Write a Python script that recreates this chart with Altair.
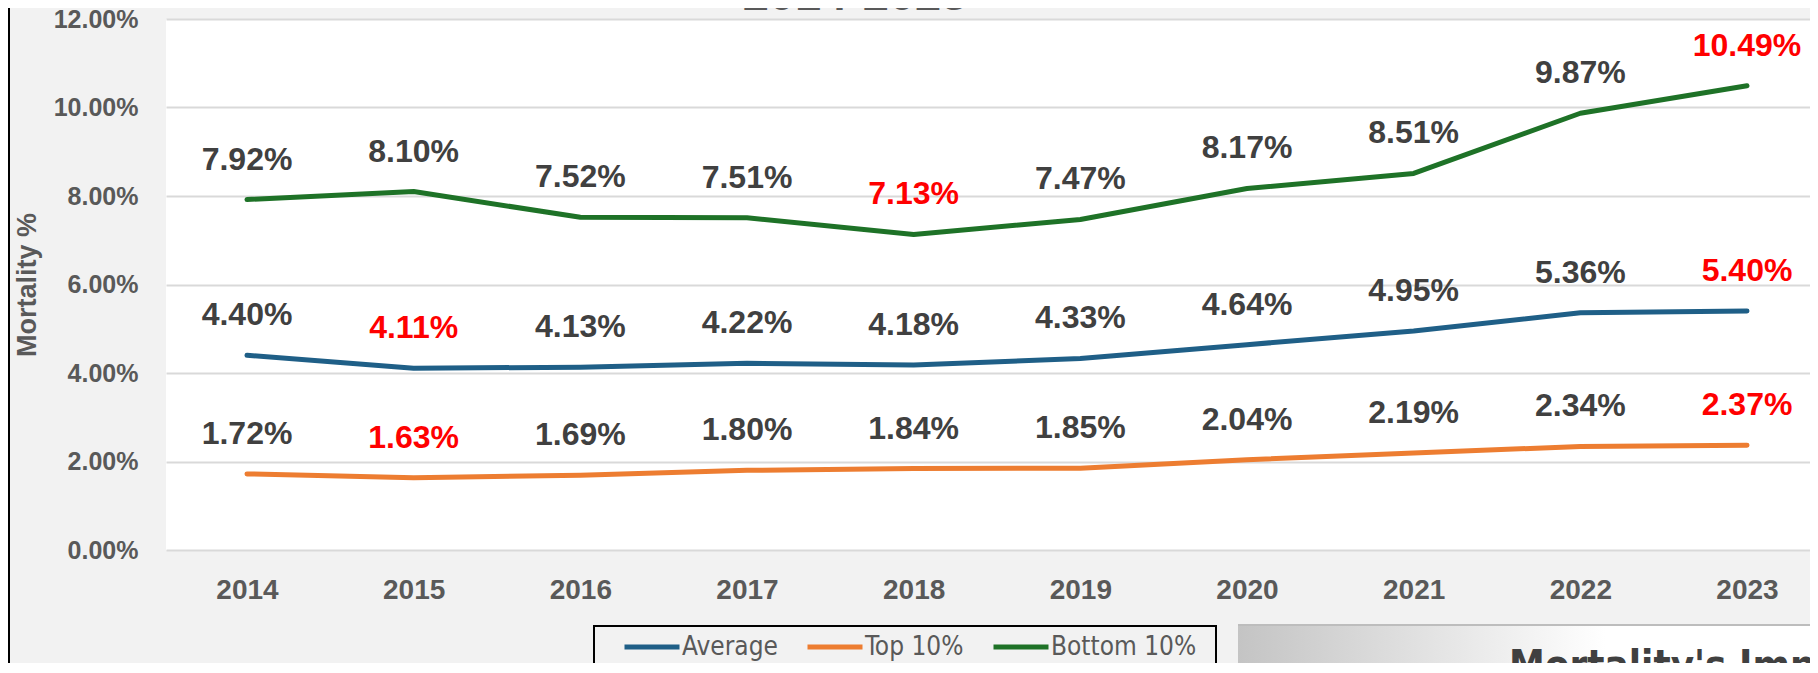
import altair as alt
import pandas as pd

# ---- data ----
years = [2014, 2015, 2016, 2017, 2018, 2019, 2020, 2021, 2022, 2023]
average = [4.40, 4.11, 4.13, 4.22, 4.18, 4.33, 4.64, 4.95, 5.36, 5.40]
top10 = [1.72, 1.63, 1.69, 1.80, 1.84, 1.85, 2.04, 2.19, 2.34, 2.37]
bottom10 = [7.92, 8.10, 7.52, 7.51, 7.13, 7.47, 8.17, 8.51, 9.87, 10.49]
series_names = ["Average", "Top 10%", "Bottom 10%"]
series_colors = ["#1f5f87", "#ed7d31", "#1e7227"]
y_ticks = [0, 2, 4, 6, 8, 10, 12]
title_text = ["2014-2023"]
panel_text = ["Mortality's Impact"]

rows = []
for name, vals in zip(series_names, [average, top10, bottom10]):
    for yr, v in zip(years, vals):
        rows.append({"year": yr, "v": v, "series": name})
df = pd.DataFrame(rows)

FONT = "Liberation Sans"
NARROW = "Liberation Sans Narrow, DejaVu Sans Condensed, sans-serif"
GREY = "#595959"

x_enc = alt.X(
    "year:Q",
    scale=alt.Scale(domain=[2013.514, 2023.378], nice=False, zero=False),
    axis=alt.Axis(
        values=years, format="d", grid=False, ticks=False, tickSize=0, domain=False,
        labelFontSize=28, labelFontWeight="bold", labelColor=GREY, labelFont=FONT,
        labelPadding=26, labelFlush=False, labelOverlap=False,
    ),
    title=None,
)
y_enc = alt.Y(
    "v:Q",
    scale=alt.Scale(domain=[0, 12], nice=False, zero=True),
    axis=alt.Axis(
        values=y_ticks, labelExpr="format(datum.value, '.2f') + '%'",
        grid=True, gridColor="#d9d9d9", gridWidth=2, ticks=False, tickSize=0, domain=False,
        labelFontSize=25, labelFontWeight="bold", labelColor=GREY, labelFont=FONT,
        labelPadding=28,
        title="Mortality %", titleFontSize=27, titleFontWeight="bold", titleColor=GREY,
        titleFont=FONT, titleAngle=270, titleX=-139, titleY=265.5,
        titleAlign="center", titleBaseline="middle",
    ),
)

base = alt.Chart(df)

lines = base.mark_line(strokeWidth=5, strokeCap="round", strokeJoin="round").encode(
    x=x_enc,
    y=y_enc,
    color=alt.Color(
        "series:N",
        scale=alt.Scale(domain=series_names, range=series_colors),
        legend=alt.Legend(
            orient="none", legendX=456, legendY=598, direction="horizontal",
            title=None, symbolType="stroke", symbolStrokeWidth=5, symbolSize=3025,
            labelFontSize=26, labelFont=NARROW, labelColor=GREY,
            columnPadding=19, labelOffset=0, padding=0,
        ),
    ),
)

labels = (
    base.transform_joinaggregate(mn="min(v)", mx="max(v)", groupby=["series"])
    .transform_calculate(
        label="format(datum.v, '.2f') + '%'",
        hl="datum.v == datum.mn || datum.v == datum.mx",
    )
    .mark_text(dy=-30, baseline="alphabetic", fontSize=32, fontWeight="bold", font=FONT)
    .encode(
        x=alt.X("year:Q"),
        y=alt.Y("v:Q"),
        text="label:N",
        color=alt.condition("datum.hl", alt.value("#ff0000"), alt.value("#404040")),
    )
)

one = pd.DataFrame({"k": [0]})

left_border = alt.Chart(one).mark_rule(color="black", strokeWidth=2).encode(
    x=alt.value(-157), y=alt.value(-11), y2=alt.value(700)
)

legend_box = alt.Chart(one).mark_rect(fill="#f2f2f2", stroke="black", strokeWidth=2).encode(
    x=alt.value(428), x2=alt.value(1050), y=alt.value(607), y2=alt.value(700)
)

grad_rect = alt.Chart(one).mark_rect(
    color=alt.Gradient(
        gradient="linear",
        stops=[
            alt.GradientStop(color="#c4c4c4", offset=0),
            alt.GradientStop(color="#ffffff", offset=0.55),
            alt.GradientStop(color="#ffffff", offset=1),
        ],
        x1=0, x2=1, y1=0, y2=0,
    )
).encode(x=alt.value(1072), x2=alt.value(1740), y=alt.value(606), y2=alt.value(700))

grad_edge = alt.Chart(one).mark_rule(color="#bdbdbd", strokeWidth=2).encode(
    x=alt.value(1072), x2=alt.value(1740), y=alt.value(606)
)

title_df = pd.DataFrame({"t": title_text})
title = alt.Chart(title_df).mark_text(
    fontSize=47, fontWeight="bold", font=FONT, color=GREY, align="center", baseline="alphabetic"
).encode(x=alt.value(689), y=alt.value(-9), text="t:N")

panel_df = pd.DataFrame({"t": panel_text})
panel = alt.Chart(panel_df).mark_text(
    fontSize=40, fontWeight="bold", font=NARROW, color="#404040", align="left", baseline="alphabetic"
).encode(x=alt.value(1343), y=alt.value(660), text="t:N")

chart = (
    alt.layer(left_border, legend_box, grad_rect, grad_edge, title, panel, lines, labels)
    .properties(
        width=1644, height=531, background="#f2f2f2",
        padding={"left": 158, "top": 11, "right": 0, "bottom": 113},
        autosize=alt.AutoSizeParams(type="none"),
    )
    .configure_view(fill="white", strokeWidth=0)
)

chart.save("out.html", embed_options={"renderer": "svg", "actions": False})
